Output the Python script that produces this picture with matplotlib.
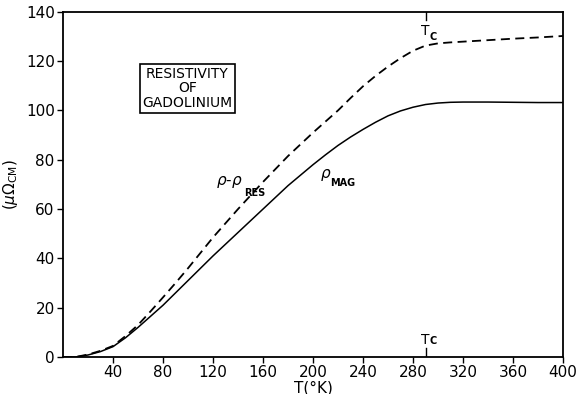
import numpy as np
import matplotlib.pyplot as plt

# temperature (K) and resistivities (micro-ohm cm)
T = np.array([0, 10, 20, 30, 40, 50, 60, 70, 80, 90, 100, 120, 140, 160, 180,
              200, 210, 220, 230, 240, 250, 260, 270, 280, 290, 300, 310,
              320, 340, 360, 380, 400])
rho_res = np.array([0, 0, 1.0, 2.5, 4.5, 8.5, 13, 18.5, 24.2, 30, 36, 48.5, 60,
                    71, 81.5, 91, 95.5, 100, 105, 109.8, 114, 117.8, 121.2,
                    124.2, 126.3, 127.2, 127.6, 127.9, 128.5, 129.1, 129.6, 130.2])
rho_mag = np.array([0, 0, 0.8, 2.2, 4.2, 7.8, 12, 16.5, 21, 26, 31, 41, 50.5,
                    60, 69.5, 78, 82, 85.8, 89.2, 92.3, 95.2, 97.8, 99.8,
                    101.3, 102.4, 103, 103.3, 103.4, 103.4, 103.3, 103.2, 103.2])
Tc = 290

xticks = [40, 80, 120, 160, 200, 240, 280, 320, 360, 400]
yticks = [0, 20, 40, 60, 80, 100, 120, 140]

plt.rcParams['font.family'] = ['DejaVu Sans']

fig = plt.figure(figsize=(5.84, 3.94), dpi=100)
ax = fig.add_axes([0.108, 0.094, 0.856, 0.876])

ax.plot(T, rho_mag, color='black', lw=1.1)
ax.plot(T, rho_res, color='black', lw=1.3, dashes=(5, 3))

ax.set_xlim(0, 400)
ax.set_ylim(0, 140)
ax.set_xticks(xticks)
ax.set_yticks(yticks)
ax.tick_params(direction='out', length=4, width=1, labelsize=11, pad=2)
for s in ax.spines.values():
    s.set_linewidth(1.3)

ax.set_xlabel('T(°K)', fontsize=11, labelpad=0)
ax.set_ylabel(r'($\mu\Omega_{\mathrm{CM}}$)', fontsize=11, labelpad=4)

# Tc markers
ax.plot([Tc, Tc], [140, 136.5], color='black', lw=1)
ax.text(Tc, 135, 'T', ha='center', va='top', fontsize=10)
ax.text(Tc + 3.5, 132, 'C', ha='left', va='top', fontsize=7, fontweight='bold')
ax.plot([Tc, Tc], [0, 3.5], color='black', lw=1)
ax.text(Tc, 4, 'T', ha='center', va='bottom', fontsize=10)
ax.text(Tc + 3.5, 4.5, 'C', ha='left', va='bottom', fontsize=7, fontweight='bold')

# curve labels
ax.text(133, 71, r'$\rho$-$\rho$', ha='center', va='center', fontsize=11)
ax.text(145, 66.5, 'RES', ha='left', va='center', fontsize=7, fontweight='bold')
ax.text(210, 74, r'$\rho$', ha='center', va='center', fontsize=11)
ax.text(214, 70.5, 'MAG', ha='left', va='center', fontsize=7, fontweight='bold')

ax.text(99.5, 109, 'RESISTIVITY\nOF\nGADOLINIUM', ha='center', va='center',
        fontsize=10, linespacing=1.05,
        bbox=dict(boxstyle='square,pad=0.2', fc='white', ec='black', lw=1.2))

fig.savefig('out.png', dpi=100)
